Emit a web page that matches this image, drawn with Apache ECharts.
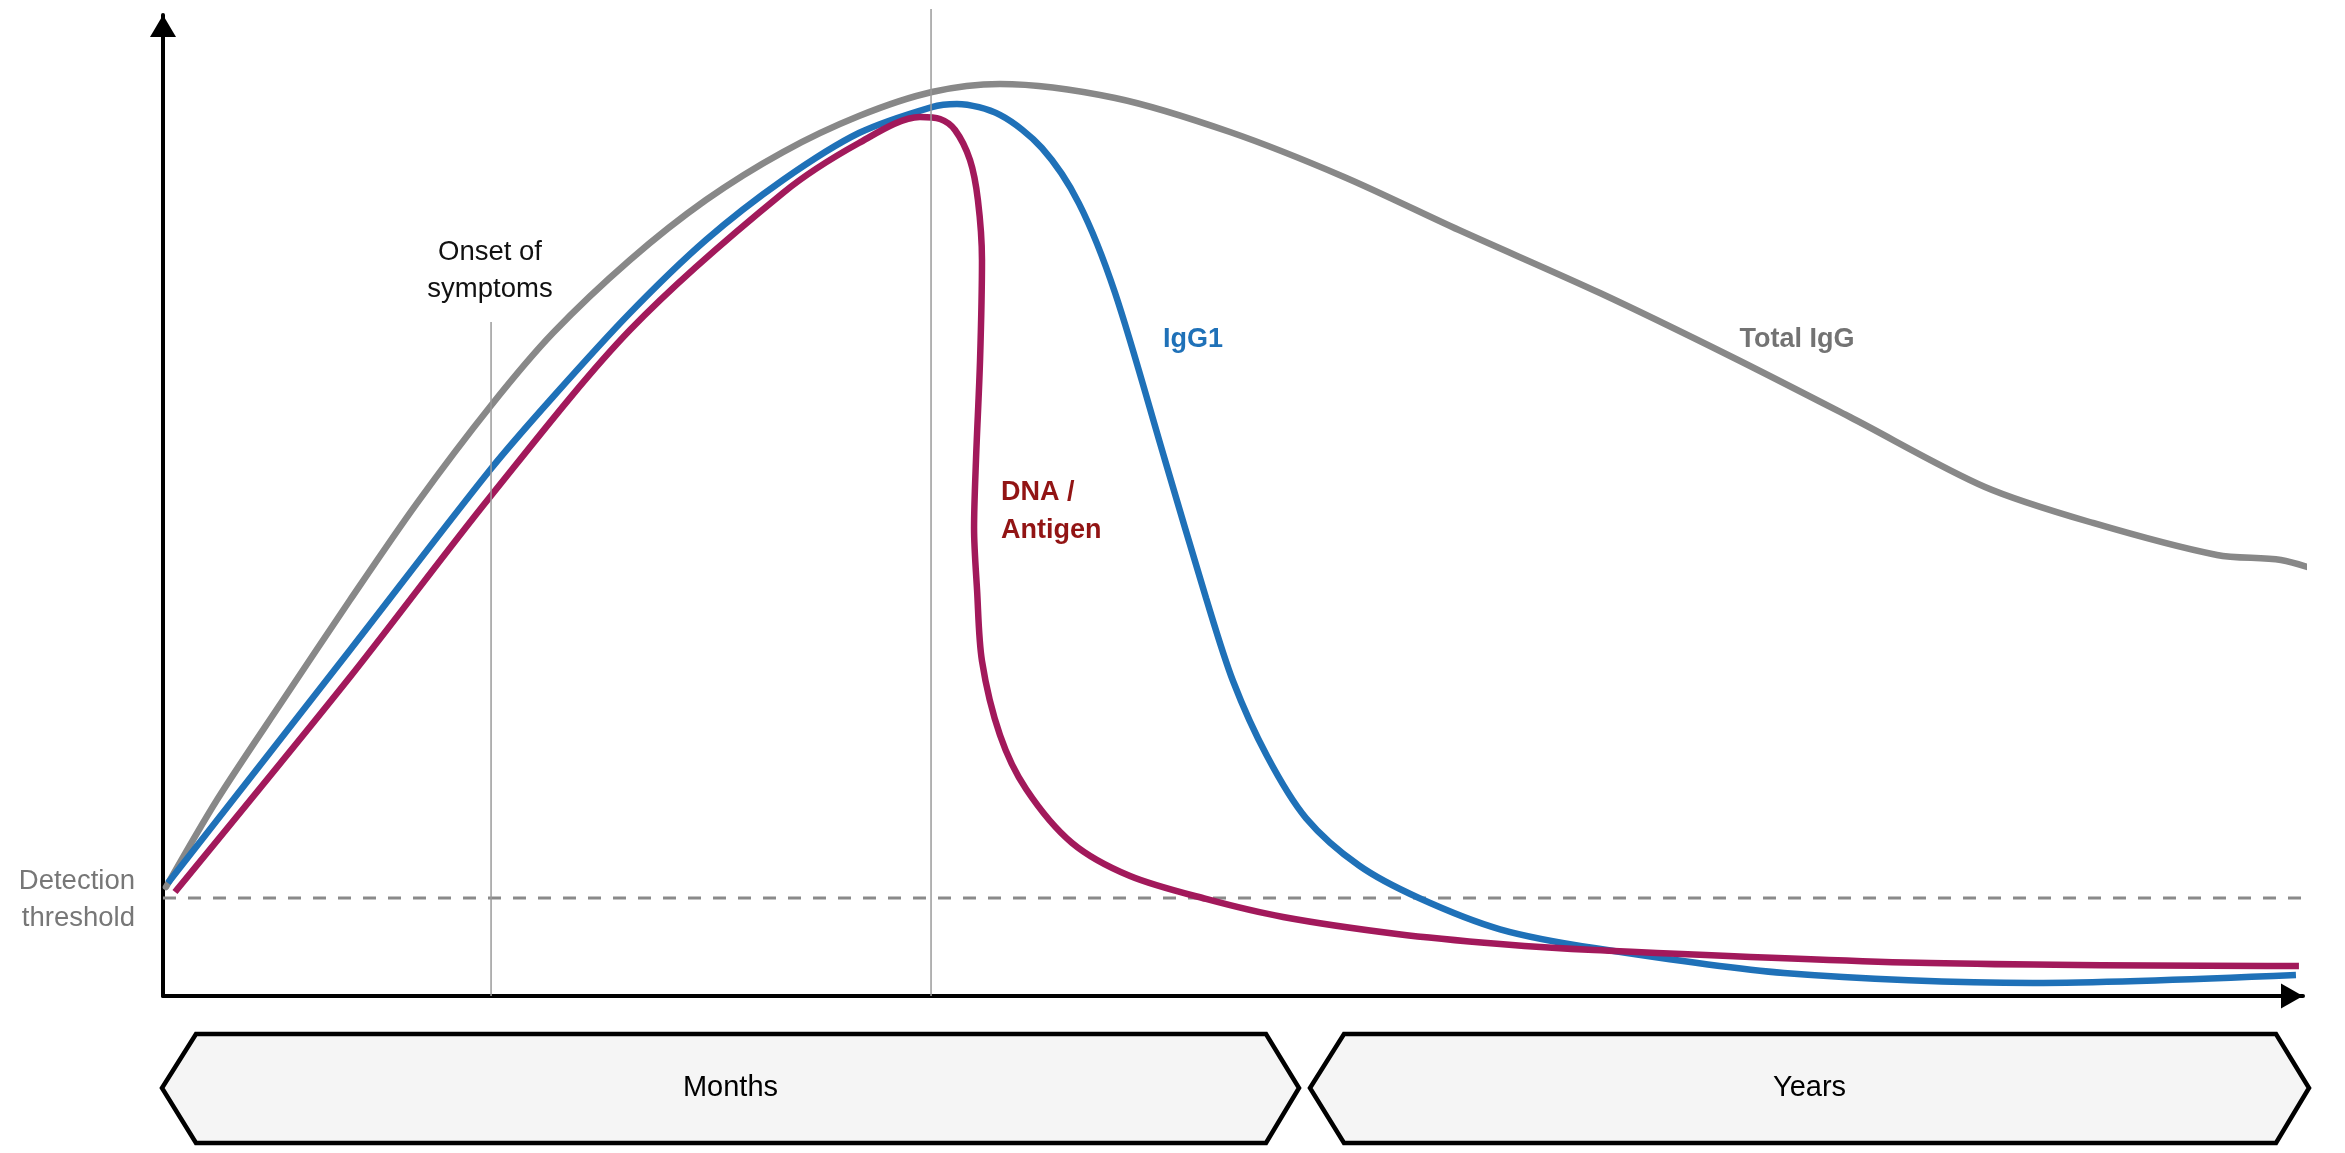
<!DOCTYPE html>
<html>
<head>
<meta charset="utf-8">
<script src="https://cdn.jsdelivr.net/npm/echarts@6/dist/echarts.min.js"></script>
<style>
html,body{margin:0;padding:0;background:#fff;}
#chart{width:2345px;height:1153px;}
</style>
</head>
<body>
<div id="chart"></div>
<script>
// ---- data (x: time, 0..100 along the axis; y: level, 0..100) ----
const totalIgG = [[0.14,11.11],[2.52,19.98],[5.61,30.17],[8.74,40.37],[11.87,50.25],[15.33,60.20],[18.22,67.58],[21.82,75.03],[25.37,81.14],[28.97,86.03],[32.52,89.70],[35.93,92.15],[39.11,92.97],[44.49,91.54],[49.86,88.07],[55.19,83.49],[60.56,78.08],[67.15,71.66],[73.32,65.14],[78.83,59.02],[85.14,51.89],[90.19,48.22],[95.98,44.95],[98.97,44.44],[100.89,43.22]];
const igG1 = [[0.23,11.52],[8.74,35.27],[15.28,53.62],[18.22,61.06],[21.82,69.62],[25.37,77.06],[28.97,83.18],[32.52,87.97],[35.93,90.62],[37.10,90.93],[39.11,89.81],[41.07,86.44],[42.80,80.80],[44.49,71.66],[46.82,54.64],[48.74,40.57],[50.00,32.11],[51.59,24.46],[53.41,18.14],[55.89,13.30],[58.69,9.99],[62.48,6.80],[66.87,4.89],[75.75,2.34],[87.38,1.33],[99.67,2.14]];
const dnaAntigen = [[0.56,10.60],[8.74,32.52],[15.28,50.87],[21.82,67.89],[28.97,81.86],[32.52,86.95],[35.37,89.60],[36.31,89.40],[37.01,88.28],[37.71,85.22],[38.08,81.14],[38.27,75.03],[38.18,64.83],[37.99,54.64],[37.90,47.71],[38.04,41.39],[38.27,34.15],[39.11,26.61],[40.33,21.10],[42.48,15.60],[45.19,12.23],[48.74,9.89],[52.34,8.05],[57.66,6.32],[62.48,5.30],[66.87,4.69],[82.57,3.36],[99.81,3.06]];
const thresholdLevel = 10;
const thresholdSpan = [0, 100.3];
const onsetLine = [[15.33,0],[15.33,68.7]];
const peakLine = [[35.89,0],[35.89,100.6]];
const phaseNames = ['Months','Years'];
const labelTexts = ['Onset of\nsymptoms','IgG1','Total IgG','DNA /\nAntigen','Detection\nthreshold'];
const labelAnchors = [[15.28,73.96],[48.13,66.87],[76.36,66.87],[39.16,49.34],[-1.31,9.84]];

// ---- chart ----
const FONT = '"Liberation Sans", Arial, Helvetica, sans-serif';
const chart = echarts.init(document.getElementById('chart'), null, {renderer:'canvas'});
const GRID = {left:163, right:42, top:15, bottom:157};
const baseLine = (name, data, color, width, extra) => Object.assign({
  name, type:'line', data, showSymbol:false, symbol:'none', clip:false,
  smooth:0.3, animation:false, silent:true,
  lineStyle:{color, width}
}, extra || {});

chart.setOption({
  animation:false,
  backgroundColor:'#ffffff',
  grid:GRID,
  xAxis:{type:'value', min:0, max:100,
    axisLine:{show:true, onZero:false, symbol:['none','triangle'], symbolSize:[25,22], symbolOffset:[0,-11], lineStyle:{color:'#000', width:4}},
    axisTick:{show:false}, axisLabel:{show:false}, splitLine:{show:false}},
  yAxis:{type:'value', min:0, max:100,
    axisLine:{show:true, onZero:false, symbol:['none','triangle'], symbolSize:[26,22], symbolOffset:[0,-11], lineStyle:{color:'#000', width:4}},
    axisTick:{show:false}, axisLabel:{show:false}, splitLine:{show:false}},
  series:[
    baseLine('Detection threshold', [[thresholdSpan[0],thresholdLevel],[thresholdSpan[1],thresholdLevel]], '#8a8a8a', 3, {smooth:false, z:1, lineStyle:{color:'#8a8a8a', width:3, type:[13,12]}}),
    baseLine('Total IgG', totalIgG, '#888888', 6.5, {z:3, lineStyle:{color:'#888888', width:6.5, cap:'round'}}),
    baseLine('IgG1', igG1, '#1f71b8', 6.5, {z:4}),
    baseLine('DNA / Antigen', dnaAntigen, '#a2195b', 6.5, {z:5}),
    baseLine('Onset', onsetLine, '#9a9a9a', 1.5, {smooth:false, z:6}),
    baseLine('Peak', peakLine, '#9a9a9a', 1.5, {smooth:false, z:6})
  ]
});

// ---- annotations ----
const labelStyles = [
  {fill:'#111111', fontWeight:'normal', fontSize:27.5, align:'center', lineHeight:37},
  {fill:'#1f71b8', fontWeight:'bold', fontSize:27, align:'center', lineHeight:38},
  {fill:'#737373', fontWeight:'bold', fontSize:27, align:'center', lineHeight:38},
  {fill:'#921414', fontWeight:'bold', fontSize:27, align:'left', lineHeight:38},
  {fill:'#777777', fontWeight:'normal', fontSize:27.5, align:'right', lineHeight:37}
];
const graphics = [];
labelTexts.forEach((t, i) => {
  const p = chart.convertToPixel({gridIndex:0}, labelAnchors[i]);
  const s = labelStyles[i];
  graphics.push({type:'text', z:20, silent:true, style:{text:t, x:p[0], y:p[1], fill:s.fill, fontWeight:s.fontWeight, fontSize:s.fontSize, fontFamily:FONT, align:s.align, verticalAlign:'middle', lineHeight:s.lineHeight}});
});

// phase banners (layout)
const bannerTop = 1034, bannerBottom = 1143, bannerMid = 1088, notch = 34;
const bannerSpans = [[162,1299],[1310,2309]];
bannerSpans.forEach((sp, i) => {
  const [a, b] = sp;
  graphics.push({type:'polygon', z:10, silent:true,
    shape:{points:[[a,bannerMid],[a+notch,bannerTop],[b-notch+1,bannerTop],[b,bannerMid],[b-notch+1,bannerBottom],[a+notch,bannerBottom]]},
    style:{fill:'#f5f5f5', stroke:'#000000', lineWidth:4.5, lineJoin:'miter'}});
  graphics.push({type:'text', z:11, silent:true,
    style:{text:phaseNames[i], x:(a+b)/2, y:bannerMid, fill:'#000', fontSize:29, fontFamily:FONT, align:'center', verticalAlign:'middle'}});
});
chart.setOption({graphic:graphics});
</script>
</body>
</html>
